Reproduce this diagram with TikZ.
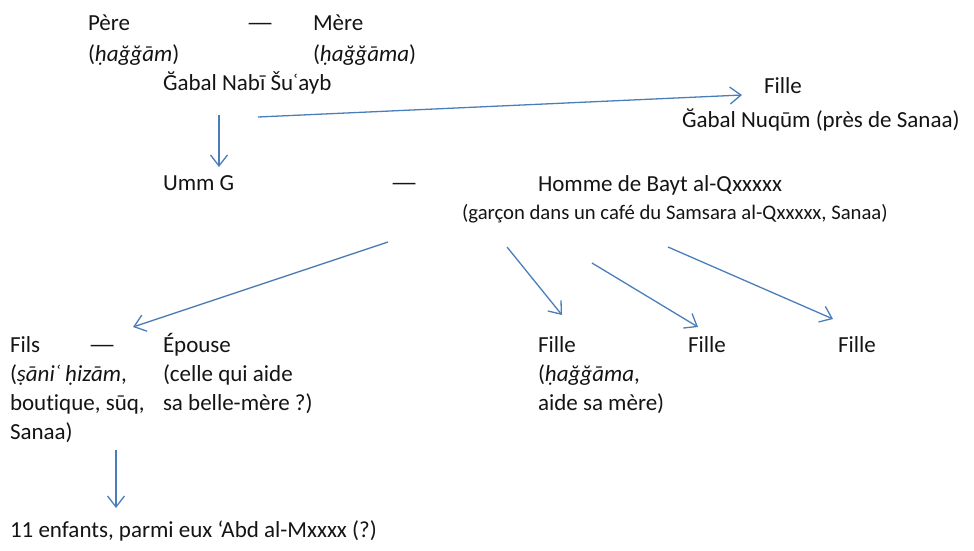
\documentclass[tikz,border=0pt]{standalone}
\usepackage{fontspec}
\usepackage{graphicx}
\setmainfont{Carlito}[Ligatures={NoCommon}]
\usetikzlibrary{arrows.meta}
\definecolor{arrowblue}{RGB}{74,126,187}
\definecolor{txt}{RGB}{20,20,20}
\tikzset{
  lbl/.style={anchor=base west, inner sep=0pt, outer sep=0pt, text=txt, font=\fontsize{23}{29}\selectfont},
  small/.style={font=\fontsize{20.7}{26}\selectfont},
  link/.style={draw=arrowblue, line width=1.3pt, -{Straight Barb[length=11pt,width=17pt,line width=1.3pt]}}
}
\newcommand{\longdash}{\scalebox{1.35}[1]{—}}
\begin{document}
\begin{tikzpicture}[x=1pt,y=-1pt]
\useasboundingbox (0,0) rectangle (974,550);
% generation 1
\node[lbl] (pere) at (88,30) {Père};
\node[lbl] (pereb) at (88,61) {(\textit{ḥağğām})};
\node[lbl] (dash1) at (246,30) {\longdash};
\node[lbl] (mere) at (313,30) {Mère};
\node[lbl] (mereb) at (313,61) {(\textit{ḥağğāma})};
\node[lbl] (jabal) at (163,90) {Ğabal Nabī Šuʿayb};
\node[lbl] (fille0) at (764,93) {Fille};
\node[lbl] (nuqum) at (682,127) {Ğabal Nuqūm (près de Sanaa)};
% generation 2
\node[lbl] (umm) at (163,190) {Umm G};
\node[lbl] (dash2) at (390,190) {\longdash};
\node[lbl] (homme) at (538,191) {Homme de Bayt al-Qxxxxx};
\node[lbl,small] (garcon) at (462,219) {(garçon dans un café du Samsara al-Qxxxxx, Sanaa)};
% generation 3
\node[lbl] (fils) at (10,352) {Fils};
\node[lbl] (dash3) at (88,352) {\longdash};
\node[lbl] (epouse) at (163,352) {Épouse};
\node[lbl] (filsb) at (10,381) {(\textit{ṣāniʿ ḥizām},};
\node[lbl] (filsc) at (10,410) {boutique, sūq,};
\node[lbl] (filsd) at (10,439) {Sanaa)};
\node[lbl] (epb) at (163,381) {(celle qui aide};
\node[lbl] (epc) at (163,410) {sa belle-mère ?)};
\node[lbl] (f1) at (538,352) {Fille};
\node[lbl] (f1b) at (538,381) {(\textit{ḥağğāma},};
\node[lbl] (f1c) at (538,410) {aide sa mère)};
\node[lbl] (f2) at (688,352) {Fille};
\node[lbl] (f3) at (838,352) {Fille};
% generation 4
\node[lbl] (enfants) at (10,537) {11 enfants, parmi eux ‘Abd al-Mxxxx (?)};
% connector end points
\coordinate (a1s) at (219,115);
\coordinate (a1e) at (219,167);
\coordinate (a2s) at (258,117);
\coordinate (a2e) at (742,95);
\coordinate (a3s) at (388,242);
\coordinate (a3e) at (133,327);
\coordinate (a4s) at (507,247);
\coordinate (a4e) at (562,315);
\coordinate (a5s) at (592,263);
\coordinate (a5e) at (698,327);
\coordinate (a6s) at (668,247);
\coordinate (a6e) at (833,319);
\coordinate (a7s) at (116,450);
\coordinate (a7e) at (116,508);
\draw[link] (a1s) -- (a1e);
\draw[link] (a2s) -- (a2e);
\draw[link] (a3s) -- (a3e);
\draw[link] (a4s) -- (a4e);
\draw[link] (a5s) -- (a5e);
\draw[link] (a6s) -- (a6e);
\draw[link] (a7s) -- (a7e);
\end{tikzpicture}
\end{document}
